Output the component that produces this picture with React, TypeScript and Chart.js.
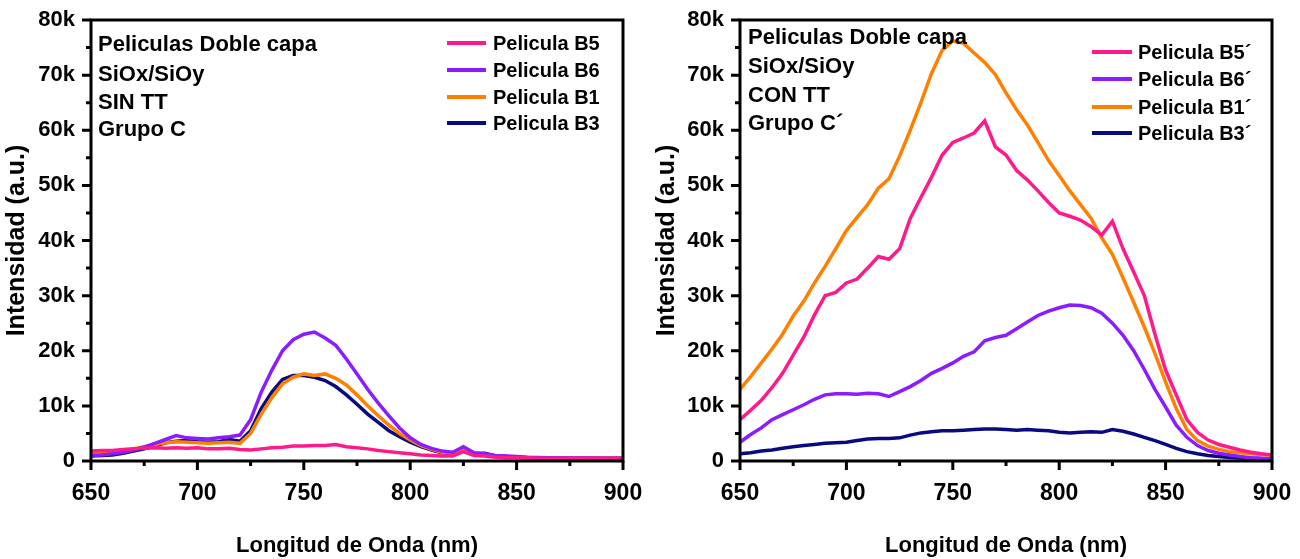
import React, { useEffect, useRef } from "react";
import { Chart, registerables } from "chart.js";

Chart.register(...registerables);

// ---------- data ----------
const wavelengths = [
  650, 655, 660, 665, 670, 675, 680, 685, 690, 695, 700, 705, 710, 715, 720, 725, 730, 735, 740, 745,
  750, 755, 760, 765, 770, 775, 780, 785, 790, 795, 800, 805, 810, 815, 820, 825, 830, 835, 840, 845,
  850, 855, 860, 865, 870, 875, 880, 885, 890, 895, 900,
];

const xTicks = [650, 700, 750, 800, 850, 900];
const xMinorTicks = [675, 725, 775, 825, 875];
const yTicks = [0, 10000, 20000, 30000, 40000, 50000, 60000, 70000, 80000];
const yMinorTicks = [5000, 15000, 25000, 35000, 45000, 55000, 65000, 75000];

// Left panel: SIN TT
const leftLabels = ["Pelicula B5", "Pelicula B6", "Pelicula B1", "Pelicula B3"];
const leftB5 = [
  1800, 1900, 1900, 2100, 2200, 2300, 2400, 2300, 2400, 2300, 2400, 2200, 2200, 2300, 2100, 2000, 2200, 2400, 2500, 2700,
  2700, 2800, 2800, 3000, 2600, 2400, 2200, 1900, 1700, 1500, 1300, 1100, 1000, 900, 900, 1700, 1000, 900, 700, 600,
  600, 600, 500, 500, 500, 500, 500, 500, 500, 500, 500,
];
const leftB6 = [
  1000, 1100, 1300, 1600, 2000, 2500, 3200, 3900, 4600, 4200, 4100, 4000, 4200, 4400, 4700, 7500, 12500, 16500, 20000, 22000,
  23000, 23400, 22300, 21000, 18500, 15800, 13000, 10500, 8200, 6000, 4200, 3000, 2300, 1800, 1600, 2600, 1500, 1300, 1000, 900,
  800, 700, 650, 600, 600, 550, 550, 550, 500, 500, 500,
];
const leftB1 = [
  1300, 1400, 1500, 1800, 2200, 2600, 3000, 3300, 3500, 3400, 3300, 3200, 3300, 3400, 3200, 5000, 8500, 11500, 14000, 15200,
  15800, 15500, 15800, 15000, 13800, 12000, 10000, 8200, 6500, 5000, 3800, 2800, 2100, 1600, 1400, 2300, 1300, 1200, 900, 800,
  700, 650, 600, 550, 550, 500, 500, 500, 500, 500, 500,
];
const leftB3 = [
  900, 1000, 1100, 1400, 1800, 2200, 2700, 3300, 3600, 3700, 3500, 3400, 3500, 3900, 3600, 5500, 9500, 12500, 14800, 15500,
  15500, 15200, 14600, 13500, 12000, 10300, 8500, 7000, 5500, 4400, 3400, 2600, 2000, 1500, 1300, 2500, 1300, 1400, 900, 800,
  700, 600, 550, 500, 500, 500, 500, 500, 500, 500, 500,
];

// Right panel: CON TT
const rightLabels = ["Pelicula B5´", "Pelicula B6´", "Pelicula B1´", "Pelicula B3´"];
const rightB5 = [
  7500, 9200, 11000, 13300, 15900, 19200, 22500, 26500, 30000, 30600, 32300, 33000, 35000, 37100, 36600, 38500, 44000, 47800, 51500, 55500,
  57800, 58600, 59500, 61700, 57000, 55500, 52700, 51000, 49000, 46900, 45000, 44400, 43700, 42500, 41000, 43500, 38500, 34300, 30000, 23000,
  16500, 12000, 7500, 5200, 3800, 3000, 2500, 2000, 1600, 1300, 1100,
];
const rightB6 = [
  3400, 4800, 6000, 7500, 8400, 9300, 10200, 11200, 12000, 12200, 12200, 12100, 12300, 12200, 11700, 12600, 13500, 14600, 15900, 16800,
  17800, 19000, 19800, 21800, 22400, 22800, 24000, 25200, 26400, 27200, 27800, 28300, 28200, 27800, 26800, 25000, 22800, 20000, 16600, 13000,
  9800, 6500, 4300, 2800, 1900, 1400, 1100, 800, 600, 500, 450,
];
const rightB1 = [
  13000, 15300, 17800, 20300, 23000, 26300, 29000, 32300, 35300, 38500, 41800, 44200, 46500, 49500, 51200, 55300, 60000, 65000, 70300, 74500,
  76200, 75800, 74000, 72300, 70100, 66800, 63700, 61000, 57800, 54500, 51800, 49000, 46500, 44000, 40500, 37500, 33200, 28800, 24300, 19500,
  14300, 9500, 5700, 3700, 2700, 2100, 1700, 1500, 1300, 1200, 1100,
];
const rightB3 = [
  1300, 1500, 1800, 2000, 2300, 2600, 2800, 3000, 3200, 3300, 3400, 3700, 4000, 4100, 4100, 4200, 4700, 5100, 5300, 5500,
  5500, 5600, 5700, 5800, 5800, 5700, 5600, 5700, 5600, 5500, 5200, 5100, 5200, 5300, 5200, 5700, 5400, 4900, 4300, 3700,
  3000, 2300, 1700, 1300, 1000, 800, 650, 550, 500, 450, 400,
];

const leftNotes = ["Peliculas Doble capa", "SiOx/SiOy", "SIN TT", "Grupo C"];
const rightNotes = ["Peliculas Doble capa", "SiOx/SiOy", "CON TT", "Grupo C´"];

const seriesColors = ["#FF1A8C", "#8A1CFF", "#FF8000", "#0A0A80"];

const FONT = "'Liberation Sans', Arial, sans-serif";

// ---------- plugins ----------
const framePlugin = {
  id: "frame",
  afterDatasetsDraw(chart: any) {
    const { ctx, chartArea, scales } = chart;
    const { left, right, top, bottom } = chartArea;
    const x = scales.x;
    const y = scales.y;
    ctx.save();
    ctx.strokeStyle = "#000";
    ctx.lineWidth = 3;
    ctx.strokeRect(left, top, right - left, bottom - top);
    ctx.lineWidth = 3;
    ctx.beginPath();
    xTicks.forEach((v) => {
      const px = x.getPixelForValue(v);
      ctx.moveTo(px, bottom);
      ctx.lineTo(px, bottom + 9);
    });
    yTicks.forEach((v) => {
      const py = y.getPixelForValue(v);
      ctx.moveTo(left, py);
      ctx.lineTo(left - 9, py);
    });
    ctx.stroke();
    ctx.beginPath();
    xMinorTicks.forEach((v) => {
      const px = x.getPixelForValue(v);
      ctx.moveTo(px, bottom);
      ctx.lineTo(px, bottom + 5);
    });
    yMinorTicks.forEach((v) => {
      const py = y.getPixelForValue(v);
      ctx.moveTo(left, py);
      ctx.lineTo(left - 5, py);
    });
    ctx.stroke();
    ctx.restore();
  },
};

const notesPlugin = {
  id: "notes",
  afterDraw(chart: any, _args: any, opts: any) {
    const { ctx } = chart;
    ctx.save();
    ctx.fillStyle = "#000";
    ctx.textBaseline = "middle";
    ctx.textAlign = "left";
    // annotation block
    ctx.font = `bold ${opts.noteSize}px ${FONT}`;
    opts.notes.forEach((t: string, i: number) => {
      ctx.fillText(t, opts.noteX, opts.noteY[i]);
    });
    // legend
    ctx.font = `bold ${opts.legSize}px ${FONT}`;
    chart.data.datasets.forEach((ds: any, i: number) => {
      const yy = opts.legY[i];
      ctx.strokeStyle = ds.borderColor;
      ctx.lineWidth = 4;
      ctx.beginPath();
      ctx.moveTo(opts.legX0, yy);
      ctx.lineTo(opts.legX1, yy);
      ctx.stroke();
      ctx.fillStyle = "#000";
      ctx.fillText(ds.label, opts.legTextX, yy + 1);
    });
    ctx.restore();
  },
};

function zeroPadding(scale: any) {
  scale.paddingLeft = 0;
  scale.paddingRight = 0;
  scale.paddingTop = 0;
  scale.paddingBottom = 0;
}

function makeConfig(labels: string[], series: number[][], notes: string[], layout: any) {
  return {
    type: "line",
    data: {
      datasets: series.map((vals, i) => ({
        label: labels[i],
        data: wavelengths.map((w, j) => ({ x: w, y: vals[j] })),
        borderColor: seriesColors[i],
        backgroundColor: seriesColors[i],
        borderWidth: 3.5,
        pointRadius: 0,
        tension: 0,
        fill: false,
      })),
    },
    options: {
      responsive: false,
      animation: false,
      events: [],
      layout: { padding: { left: 0, right: layout.padRight, top: 20, bottom: 0 } },
      plugins: {
        legend: { display: false },
        tooltip: { enabled: false },
        notes: {
          notes,
          noteX: layout.noteX,
          noteY: layout.noteY,
          noteSize: 22,
          legSize: 20,
          legX0: layout.legX0,
          legX1: layout.legX1,
          legTextX: layout.legTextX,
          legY: layout.legY,
        },
      },
      scales: {
        x: {
          type: "linear",
          min: 650,
          max: 900,
          afterBuildTicks: (scale: any) => {
            scale.ticks = xTicks.map((v) => ({ value: v }));
          },
          afterFit: (scale: any) => {
            scale.height = 98;
            zeroPadding(scale);
          },
          grid: { display: false, drawTicks: false },
          border: { display: false },
          ticks: {
            color: "#000",
            font: { family: FONT, size: 23, weight: "bold" },
            padding: 19,
            maxRotation: 0,
          },
          title: {
            display: true,
            text: "Longitud de Onda (nm)",
            color: "#000",
            font: { family: FONT, size: 22, weight: "bold" },
            padding: { top: 0, bottom: 0 },
          },
        },
        y: {
          type: "linear",
          min: 0,
          max: 80000,
          afterBuildTicks: (scale: any) => {
            scale.ticks = yTicks.map((v) => ({ value: v }));
          },
          afterFit: (scale: any) => {
            scale.width = layout.yWidth;
            zeroPadding(scale);
          },
          grid: { display: false, drawTicks: false },
          border: { display: false },
          ticks: {
            color: "#000",
            font: { family: FONT, size: 22, weight: "bold" },
            padding: 16,
            callback: (v: number) => (v === 0 ? "0" : `${v / 1000}k`),
          },
          title: {
            display: true,
            text: "Intensidad (a.u.)",
            color: "#000",
            font: { family: FONT, size: 25, weight: "bold" },
            padding: { top: 2, bottom: 0 },
          },
        },
      },
    },
    plugins: [framePlugin, notesPlugin],
  };
}

function Panel(props: { cfg: any }) {
  const ref = useRef<HTMLCanvasElement | null>(null);
  useEffect(() => {
    if (!ref.current) return;
    const chart = new Chart(ref.current, props.cfg);
    return () => chart.destroy();
  }, []);
  return <canvas ref={ref} width={650} height={559} style={{ display: "block", width: 650, height: 559 }} />;
}

export default function App() {
  const leftCfg = makeConfig(leftLabels, [leftB5, leftB6, leftB1, leftB3], leftNotes, {
    padRight: 27,
    yWidth: 91,
    noteX: 98,
    noteY: [45, 75, 103, 130],
    legX0: 447,
    legX1: 486,
    legTextX: 493,
    legY: [43, 70, 97, 123],
  });
  const rightCfg = makeConfig(rightLabels, [rightB5, rightB6, rightB1, rightB3], rightNotes, {
    padRight: 28,
    yWidth: 90,
    noteX: 98,
    noteY: [38, 67, 96, 124],
    legX0: 442,
    legX1: 482,
    legTextX: 488,
    legY: [52, 79, 107, 133],
  });
  return (
    <div
      style={{
        position: "absolute",
        left: 0,
        top: 0,
        width: 1300,
        height: 559,
        display: "flex",
        background: "#fff",
      }}
    >
      <Panel cfg={leftCfg} />
      <Panel cfg={rightCfg} />
    </div>
  );
}
